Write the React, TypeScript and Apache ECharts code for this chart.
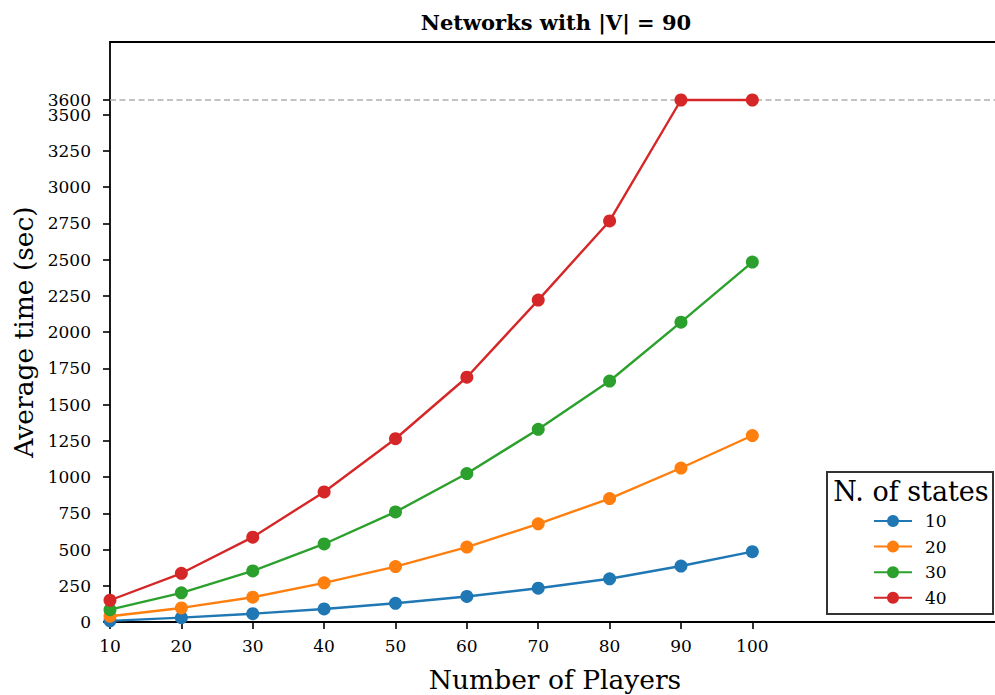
import React, { useEffect, useRef } from "react";
import * as echarts from "echarts";

// Number of players on the x axis
const players = [10, 20, 30, 40, 50, 60, 70, 80, 90, 100];

// Average solve time (sec) for each number of states
const states10 = [8, 30, 57, 90, 129, 176, 233, 298, 386, 485];
const states20 = [40, 97, 171, 270, 382, 517, 677, 851, 1062, 1286];
const states30 = [85, 201, 352, 538, 759, 1024, 1329, 1662, 2068, 2482];
const states40 = [150, 336, 585, 897, 1264, 1688, 2220, 2766, 3600, 3600];

const seriesNames = ["10", "20", "30", "40"];
const seriesValues = [states10, states20, states30, states40];
const seriesColors = ["#1f77b4", "#ff7f0e", "#2ca02c", "#d62728"];

// Time limit drawn as a dashed reference line (its label sits on the y axis)
const timeLimit = 3600;

const xTicks = [10, 20, 30, 40, 50, 60, 70, 80, 90, 100];
const yLabelTicks = [0, 250, 500, 750, 1000, 1250, 1500, 1750, 2000, 2250, 2500, 2750, 3000, 3250, 3500];
const yTicks = [...yLabelTicks, timeLimit];

const FONT = "DejaVu Serif";

export default function App() {
  const ref = useRef<HTMLDivElement>(null);

  useEffect(() => {
    if (!ref.current) return;
    const chart = echarts.init(ref.current, null, { renderer: "svg" });

    const series: any[] = seriesNames.map((name, i) => ({
      name,
      type: "line",
      data: players.map((p, j) => [p, seriesValues[i][j]]),
      symbol: "circle",
      symbolSize: 13,
      showSymbol: true,
      lineStyle: { width: 2.4, color: seriesColors[i] },
      itemStyle: { color: seriesColors[i] },
      z: 3 + i,
    }));
    series[0].markLine = {
      silent: true,
      symbol: "none",
      label: {
        show: true,
        position: "start",
        formatter: String(timeLimit),
        distance: 19,
        fontFamily: FONT,
        fontSize: 17,
        color: "#000",
      },
      lineStyle: { color: "#b0b0b0", type: [6, 3.5], width: 1.5 },
      data: [{ yAxis: timeLimit }],
      z: 1,
    };

    chart.setOption({
      animation: false,
      backgroundColor: "#ffffff",
      title: {
        text: "Networks with |V| = 90",
        left: 551,
        textAlign: "center",
        top: 7,
        textStyle: { fontFamily: FONT, fontWeight: "bold", fontSize: 21, color: "#000" },
      },
      grid: {
        left: 110,
        top: 42,
        width: 890,
        height: 580,
        show: true,
        borderColor: "#000",
        borderWidth: 1.8,
        containLabel: false,
        outerBoundsMode: "none",
      },
      xAxis: {
        type: "value",
        min: 10,
        max: 134.7,
        splitLine: { show: false },
        axisLine: { show: false },
        axisTick: { show: true, length: 7, lineStyle: { color: "#000", width: 1.6 }, customValues: xTicks },
        axisLabel: {
          customValues: xTicks,
          formatter: (v: number) => String(v),
          hideOverlap: false,
          fontFamily: FONT,
          fontSize: 17,
          color: "#000",
          margin: 15,
        },
        name: "Number of Players",
        nameLocation: "middle",
        nameGap: 44,
        nameTextStyle: { fontFamily: FONT, fontSize: 26.5, color: "#000" },
      },
      yAxis: {
        type: "value",
        min: 0,
        max: 4000,
        splitLine: { show: false },
        axisLine: { show: false },
        axisTick: { show: true, length: 7, lineStyle: { color: "#000", width: 1.6 }, customValues: yTicks },
        axisLabel: {
          customValues: yLabelTicks,
          formatter: (v: number) => String(v),
          hideOverlap: false,
          showMaxLabel: true,
          showMinLabel: true,
          fontFamily: FONT,
          fontSize: 17,
          color: "#000",
          margin: 19,
        },
        name: "Average time (sec)",
        nameLocation: "middle",
        nameGap: 72,
        nameTextStyle: { fontFamily: FONT, fontSize: 26.5, color: "#000" },
      },
      legend: {
        orient: "vertical",
        left: 873,
        top: 512.5,
        padding: 0,
        itemWidth: 38,
        itemHeight: 15,
        itemGap: 8.6,
        data: seriesNames,
        textStyle: { fontFamily: FONT, fontSize: 17, color: "#000", padding: [0, 0, 0, 8] },
        z: 10,
      },
      graphic: [
        {
          type: "rect",
          shape: { x: 827, y: 472, width: 166, height: 142 },
          style: { fill: "#ffffff", stroke: "#333333", lineWidth: 2 },
          z: 8,
        },
        {
          type: "text",
          x: 911,
          y: 491,
          style: {
            text: "N. of states",
            fontFamily: FONT,
            fontSize: 27,
            fill: "#000",
            align: "center",
            verticalAlign: "middle",
          },
          z: 9,
        },
      ],
      series,
    });

    return () => chart.dispose();
  }, []);

  return (
    <div
      ref={ref}
      style={{ position: "absolute", left: 0, top: 0, width: 995, height: 695 }}
    />
  );
}
